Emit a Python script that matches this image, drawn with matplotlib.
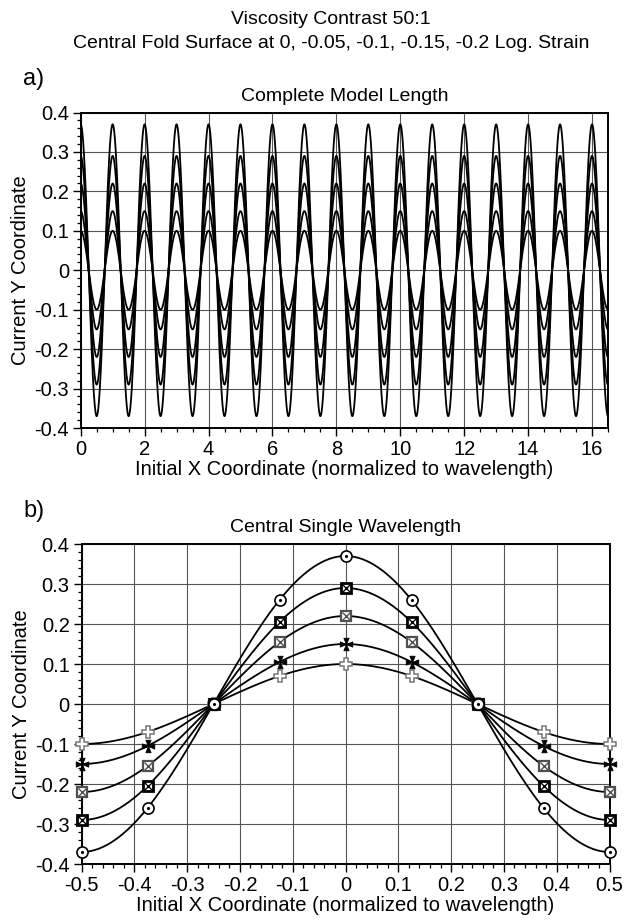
import numpy as np
import matplotlib
matplotlib.use('Agg')
import matplotlib.pyplot as plt
from matplotlib.path import Path
from matplotlib.ticker import MultipleLocator, FixedLocator, FixedFormatter

plt.rcParams['font.family'] = ['Liberation Sans', 'DejaVu Sans']
plt.rcParams['axes.unicode_minus'] = False

# ---------------- data ----------------
x_nodes = [-0.5, -0.375, -0.25, -0.125, 0.0, 0.125, 0.25, 0.375, 0.5]
y_strain_020 = [-0.37, -0.26, 0.0, 0.26, 0.37, 0.26, 0.0, -0.26, -0.37]
y_strain_015 = [-0.29, -0.205, 0.0, 0.205, 0.29, 0.205, 0.0, -0.205, -0.29]
y_strain_010 = [-0.22, -0.155, 0.0, 0.155, 0.22, 0.155, 0.0, -0.155, -0.22]
y_strain_005 = [-0.15, -0.105, 0.0, 0.105, 0.15, 0.105, 0.0, -0.105, -0.15]
y_strain_000 = [-0.10, -0.07, 0.0, 0.07, 0.10, 0.07, 0.0, -0.07, -0.10]
n_wavelengths_a = 16.5

a_xticks = [0, 2, 4, 6, 8, 10, 12, 14, 16]
a_xticklabels = ['0', '2', '4', '6', '8', '10', '12', '14', '16']
yticks = [-0.4, -0.3, -0.2, -0.1, 0, 0.1, 0.2, 0.3, 0.4]
yticklabels = ['-0.4', '-0.3', '-0.2', '-0.1', '0', '0.1', '0.2', '0.3', '0.4']
b_xticks = [-0.5, -0.4, -0.3, -0.2, -0.1, 0, 0.1, 0.2, 0.3, 0.4, 0.5]
b_xticklabels = ['-0.5', '-0.4', '-0.3', '-0.2', '-0.1', '0', '0.1', '0.2', '0.3', '0.4', '0.5']

series = [y_strain_000, y_strain_005, y_strain_010, y_strain_015, y_strain_020]


# ---------------- helpers ----------------
def clamped_spline(xn, yn, xs):
    xn = np.asarray(xn, float)
    yn = np.asarray(yn, float)
    n = len(xn)
    h = np.diff(xn)
    A = np.zeros((n, n))
    r = np.zeros(n)
    A[0, 0] = 2 * h[0]; A[0, 1] = h[0]
    r[0] = 6 * ((yn[1] - yn[0]) / h[0])
    for i in range(1, n - 1):
        A[i, i - 1] = h[i - 1]
        A[i, i] = 2 * (h[i - 1] + h[i])
        A[i, i + 1] = h[i]
        r[i] = 6 * ((yn[i + 1] - yn[i]) / h[i] - (yn[i] - yn[i - 1]) / h[i - 1])
    A[-1, -2] = h[-1]; A[-1, -1] = 2 * h[-1]
    r[-1] = 6 * (0 - (yn[-1] - yn[-2]) / h[-1])
    M = np.linalg.solve(A, r)
    idx = np.clip(np.searchsorted(xn, xs) - 1, 0, n - 2)
    x0 = xn[idx]; x1 = xn[idx + 1]; hh = x1 - x0
    t0 = x1 - xs; t1 = xs - x0
    return (M[idx] * t0 ** 3 / (6 * hh) + M[idx + 1] * t1 ** 3 / (6 * hh)
            + (yn[idx] / hh - M[idx] * hh / 6) * t0
            + (yn[idx + 1] / hh - M[idx + 1] * hh / 6) * t1)


def star_path():
    verts, codes = [], []
    w = 0.42
    for dx, dy in [(0, 1), (0, -1), (1, 0), (-1, 0)]:
        px, py = -dy, dx
        verts += [(0, 0), (dx + w * px, dy + w * py), (dx - w * px, dy - w * py), (0, 0)]
        codes += [Path.MOVETO, Path.LINETO, Path.LINETO, Path.CLOSEPOLY]
    return Path(verts, codes)


def style_axes(ax):
    for s in ax.spines.values():
        s.set_linewidth(1.4)
        s.set_color('black')
    ax.tick_params(which='major', direction='out', length=6, width=1.0, pad=2.5,
                   labelsize=14.5, top=False, right=False)
    ax.tick_params(which='minor', direction='out', length=3, width=0.9,
                   top=False, right=False)
    ax.grid(True, which='major', color='#555555', linewidth=0.8)
    ax.set_axisbelow(True)
    ax.yaxis.set_major_locator(FixedLocator(yticks))
    ax.yaxis.set_major_formatter(FixedFormatter(yticklabels))
    ax.yaxis.set_minor_locator(MultipleLocator(0.02))
    ax.set_ylim(-0.4, 0.4)
    ax.set_ylabel('Current Y Coordinate', fontsize=14.5, labelpad=3)
    ax.set_xlabel('Initial X Coordinate (normalized to wavelength)', fontsize=14.5, labelpad=1)


W, H = 626, 921
fig = plt.figure(figsize=(W / 100, H / 100), dpi=100)

# ---------------- panel a ----------------
axa = fig.add_axes([80.7 / W, 1 - 428 / H, (608 - 80.7) / W, (428 - 112.5) / H])
step = x_nodes[1] - x_nodes[0]
n_nodes = int(round(n_wavelengths_a / step)) + 1
xa_nodes = np.arange(n_nodes) * step
xa = np.linspace(0, n_wavelengths_a, 6000)
for vals in series:
    period = vals[4:8] + vals[0:4]
    ya_nodes = [period[i % 8] for i in range(n_nodes)]
    axa.plot(xa, clamped_spline(xa_nodes, ya_nodes, xa), color='black', lw=1.3, zorder=3)
axa.set_xlim(0, n_wavelengths_a)
axa.xaxis.set_major_locator(FixedLocator(a_xticks))
axa.xaxis.set_major_formatter(FixedFormatter(a_xticklabels))
axa.xaxis.set_minor_locator(MultipleLocator(0.5))
style_axes(axa)
axa.set_title('Complete Model Length', fontsize=14, pad=8.5)

# ---------------- panel b ----------------
axb = fig.add_axes([81.5 / W, 1 - 864 / H, (609.5 - 81.5) / W, (864 - 544) / H])
xb = np.linspace(-0.5, 0.5, 1000)
for vals in series:
    axb.plot(xb, clamped_spline(x_nodes, vals, xb), color='black', lw=1.3, zorder=3)

mk = dict(linestyle='none', clip_on=False)
axb.plot(x_nodes, y_strain_000, marker='P', ms=9, mfc='white', mec='#777777', mew=1.1, zorder=4, **mk)
axb.plot(x_nodes, y_strain_005, marker=star_path(), ms=9, mfc='black', mec='black', mew=0.6, zorder=5, **mk)
axb.plot(x_nodes, y_strain_010, marker='s', ms=7.5, mfc='white', mec='#505050', mew=1.6, zorder=6, **mk)
axb.plot(x_nodes, y_strain_010, marker='x', ms=5.5, mec='#505050', mew=1.0, zorder=6, **mk)
axb.plot(x_nodes, y_strain_015, marker='s', ms=7.5, mfc='white', mec='black', mew=2.0, zorder=7, **mk)
axb.plot(x_nodes, y_strain_015, marker='x', ms=5.5, mec='black', mew=1.0, zorder=7, **mk)
axb.plot(x_nodes, y_strain_020, marker='o', ms=8, mfc='white', mec='black', mew=1.2, zorder=8, **mk)
axb.plot(x_nodes, y_strain_020, marker='.', ms=2.5, mfc='black', mec='black', zorder=8, **mk)

axb.set_xlim(-0.5, 0.5)
axb.xaxis.set_major_locator(FixedLocator(b_xticks))
axb.xaxis.set_major_formatter(FixedFormatter(b_xticklabels))
axb.xaxis.set_minor_locator(MultipleLocator(0.02))
style_axes(axb)
axb.set_title('Central Single Wavelength', fontsize=14, pad=8.5)

# ---------------- figure texts ----------------
fig.text(331 / W, 1 - 24 / H, 'Viscosity Contrast 50:1', ha='center', va='baseline', fontsize=14)
fig.text(331 / W, 1 - 48 / H, 'Central Fold Surface at 0, -0.05, -0.1, -0.15, -0.2 Log. Strain',
         ha='center', va='baseline', fontsize=14)
fig.text(23 / W, 1 - 85 / H, 'a)', ha='left', va='baseline', fontsize=17)
fig.text(23 / W, 1 - 517 / H, 'b)', ha='left', va='baseline', fontsize=17)

fig.savefig('out.png', dpi=100)
